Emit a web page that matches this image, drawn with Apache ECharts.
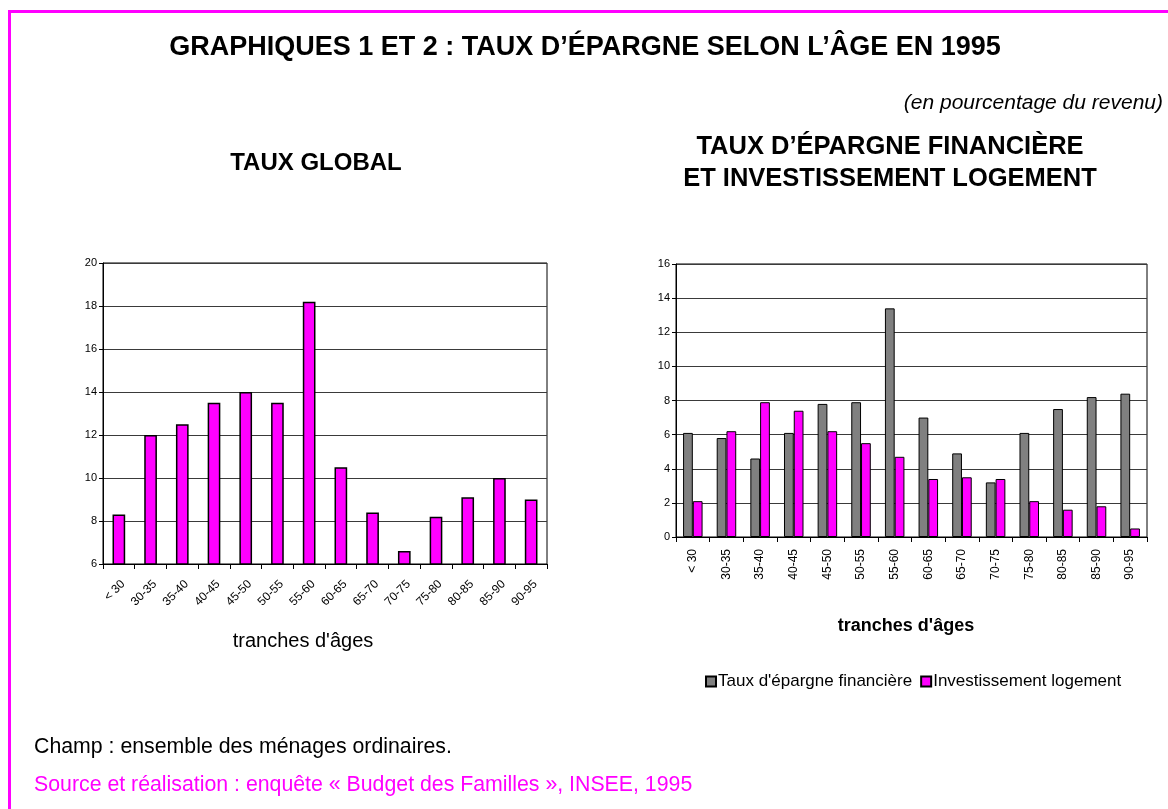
<!DOCTYPE html>
<html>
<head>
<meta charset="utf-8">
<style>
  html, body { margin: 0; padding: 0; background: #fff; }
  #chart { width: 1168px; height: 809px; }
</style>
<script src="https://cdn.jsdelivr.net/npm/echarts@6/dist/echarts.min.js"></script>
</head>
<body>
<div id="chart"></div>
<script>
// tranches d'âges
var ages = ['< 30', '30-35', '35-40', '40-45', '45-50', '50-55', '55-60', '60-65', '65-70', '70-75', '75-80', '80-85', '85-90', '90-95'];
// graphique 1 : taux global
var tauxGlobal = [8.3, 12.0, 12.5, 13.5, 14.0, 13.5, 18.2, 10.5, 8.4, 6.6, 8.2, 9.1, 10.0, 9.0];
// graphique 2
var epargneFinanciere = [6.1, 5.8, 4.6, 6.1, 7.8, 7.9, 13.4, 7.0, 4.9, 3.2, 6.1, 7.5, 8.2, 8.4];
var investLogement = [2.1, 6.2, 7.9, 7.4, 6.2, 5.5, 4.7, 3.4, 3.5, 3.4, 2.1, 1.6, 1.8, 0.5];

var FONT = '"Liberation Sans", Arial, sans-serif';
var chart = echarts.init(document.getElementById('chart'));

function txt(text, x, y, size, opts) {
    opts = opts || {};
    return {
        type: 'text',
        x: x, y: y,
        silent: true,
        style: {
            text: text,
            fontFamily: FONT,
            fontSize: size,
            fontWeight: opts.bold ? 'bold' : 'normal',
            fontStyle: opts.italic ? 'italic' : 'normal',
            fill: opts.color || '#000',
            align: opts.align || 'center',
            verticalAlign: 'middle'
        }
    };
}

var catAxisBase = {
    type: 'category',
    data: ages,
    axisLine: { lineStyle: { color: '#000', width: 1 } },
    axisTick: { show: true, length: 5, lineStyle: { color: '#000' } },
    splitLine: { show: false }
};

var valAxisBase = {
    type: 'value',
    interval: 2,
    axisLine: { show: true, lineStyle: { color: '#000', width: 1 } },
    axisTick: { show: true, length: 4, lineStyle: { color: '#000' } },
    axisLabel: { fontFamily: FONT, fontSize: 11, color: '#000', margin: 6 },
    splitLine: { show: true, lineStyle: { color: '#3a3a3a', width: 1 } }
};

var option = {
    animation: false,
    backgroundColor: '#fff',
    textStyle: { fontFamily: FONT },
    grid: [
        { left: 103, top: 263, width: 444, height: 301, show: true, borderColor: '#000', borderWidth: 1, backgroundColor: 'transparent' },
        { left: 676, top: 264, width: 471, height: 273, show: true, borderColor: '#000', borderWidth: 1, backgroundColor: 'transparent' }
    ],
    xAxis: [
        Object.assign({}, catAxisBase, {
            gridIndex: 0,
            axisLabel: { interval: 0, rotate: 45, fontFamily: FONT, fontSize: 12, color: '#000', margin: 14, verticalAlign: 'top' }
        }),
        Object.assign({}, catAxisBase, {
            gridIndex: 1,
            axisLabel: { interval: 0, rotate: 90, fontFamily: FONT, fontSize: 12, color: '#000', margin: 12 }
        })
    ],
    yAxis: [
        Object.assign({}, valAxisBase, { gridIndex: 0, min: 6, max: 20 }),
        Object.assign({}, valAxisBase, { gridIndex: 1, min: 0, max: 16 })
    ],
    legend: {
        data: ['Taux d\'épargne financière', 'Investissement logement'],
        left: 700,
        top: 668,
        icon: 'rect',
        itemWidth: 10,
        itemHeight: 10,
        itemGap: 8,
        textStyle: { fontFamily: FONT, fontSize: 17, color: '#000', padding: [0, 0, 0, -3] }
    },
    series: [
        {
            name: 'Taux global',
            type: 'bar',
            xAxisIndex: 0,
            yAxisIndex: 0,
            data: tauxGlobal,
            barCategoryGap: '60%',
            itemStyle: { color: '#ff00ff', borderColor: '#000', borderWidth: 1.5 }
        },
        {
            name: 'Taux d\'épargne financière',
            type: 'bar',
            xAxisIndex: 1,
            yAxisIndex: 1,
            data: epargneFinanciere,
            barGap: '0%',
            barCategoryGap: '42%',
            itemStyle: { color: '#808080', borderColor: '#000', borderWidth: 1 }
        },
        {
            name: 'Investissement logement',
            type: 'bar',
            xAxisIndex: 1,
            yAxisIndex: 1,
            data: investLogement,
            barGap: '0%',
            barCategoryGap: '42%',
            itemStyle: { color: '#ff00ff', borderColor: '#000', borderWidth: 1 }
        }
    ],
    graphic: [
        // cadre magenta (haut et gauche)
        { type: 'rect', silent: true, shape: { x: 8, y: 10, width: 1160, height: 3 }, style: { fill: '#ff00ff' } },
        { type: 'rect', silent: true, shape: { x: 8, y: 10, width: 3, height: 799 }, style: { fill: '#ff00ff' } },
        txt('GRAPHIQUES 1 ET 2 : TAUX D\u2019ÉPARGNE SELON L\u2019ÂGE EN 1995', 585, 48, 27, { bold: true }),
        txt('(en pourcentage du revenu)', 1163, 103, 21, { italic: true, align: 'right' }),
        txt('TAUX GLOBAL', 316, 163, 24, { bold: true }),
        txt('TAUX D\u2019ÉPARGNE FINANCIÈRE', 890, 147, 25.5, { bold: true }),
        txt('ET INVESTISSEMENT LOGEMENT', 890, 179, 25.5, { bold: true }),
        txt('tranches d\'âges', 303, 641, 20),
        txt('tranches d\'âges', 906, 626, 18, { bold: true }),
        txt('Champ : ensemble des ménages ordinaires.', 34, 747, 21.3, { align: 'left' }),
        txt('Source et réalisation : enquête « Budget des Familles », INSEE, 1995', 34, 785, 21.3, { align: 'left', color: '#ff00ff' })
    ]
};

chart.setOption(option);
</script>
</body>
</html>
